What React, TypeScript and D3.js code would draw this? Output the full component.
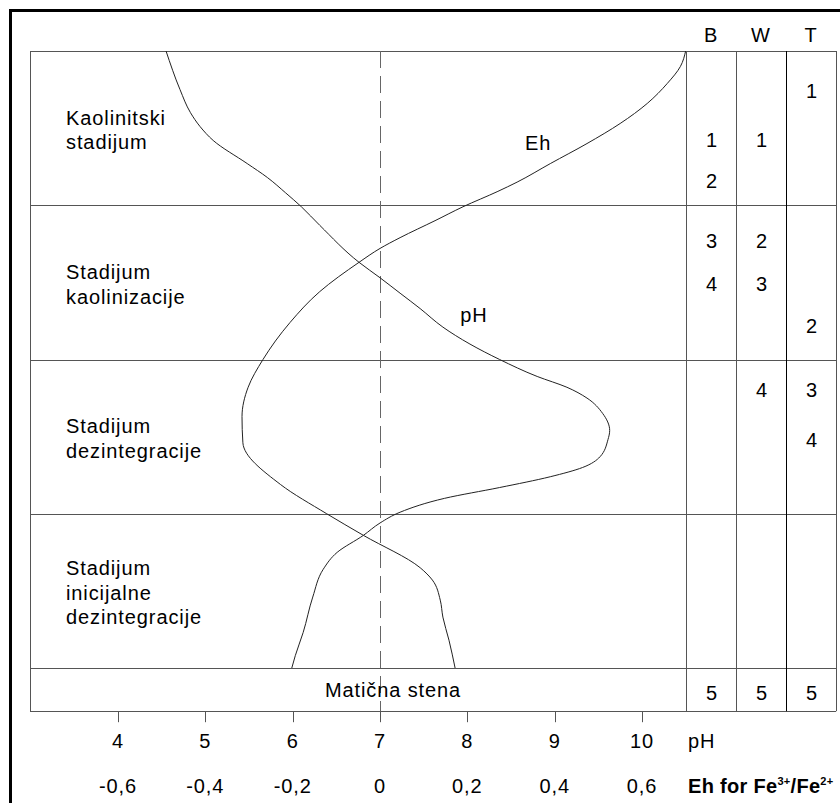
import React from "react";
import * as d3 from "d3";

// stages (rows), top to bottom
const stages = [
  ["Kaolinitski", "stadijum"],
  ["Stadijum", "kaolinizacije"],
  ["Stadijum", "dezintegracije"],
  ["Stadijum", "inicijalne", "dezintegracije"],
];
const baseRock = "Matična stena";

// profile columns and the sample numbers, with depth in stage units
const columns = ["B", "W", "T"];
const bLabels = ["1", "2", "3", "4", "5"];
const bDepth = [0.58, 0.84, 1.23, 1.51, 4.16];
const wLabels = ["1", "2", "3", "4", "5"];
const wDepth = [0.58, 1.23, 1.51, 2.2, 4.16];
const tLabels = ["1", "2", "3", "4", "5"];
const tDepth = [0.26, 1.78, 2.2, 2.52, 4.16];

// pH curve
const phValues = [4.55, 4.71, 4.83, 4.94, 5.09, 5.48, 5.71, 5.92, 6.1, 6.31, 6.76, 7.0, 7.23, 7.46, 7.72, 8.03, 8.37, 8.8, 9.14, 9.37, 9.55, 9.63, 9.61, 9.52, 9.32, 8.95, 8.37, 7.74, 7.23, 7.0, 6.81, 6.51, 6.35, 6.23, 6.12, 6.03, 5.99];
const phDepth = [0, 0.25, 0.4, 0.49, 0.58, 0.73, 0.82, 0.92, 1.01, 1.13, 1.37, 1.47, 1.57, 1.67, 1.79, 1.9, 2.0, 2.11, 2.18, 2.25, 2.35, 2.46, 2.52, 2.63, 2.7, 2.76, 2.83, 2.9, 2.99, 3.06, 3.14, 3.25, 3.36, 3.54, 3.77, 3.92, 4.0];

// Eh curve (V)
const ehValues = [0.7, 0.688, 0.658, 0.612, 0.55, 0.474, 0.39, 0.314, 0.27, 0.19, 0.126, 0.046, 0.0, -0.048, -0.138, -0.206, -0.268, -0.302, -0.316, -0.314, -0.228, -0.122, -0.038, 0.092, 0.12, 0.138, 0.144, 0.158, 0.172];
const ehDepth = [0, 0.1, 0.21, 0.34, 0.47, 0.6, 0.73, 0.85, 0.91, 1.01, 1.1, 1.21, 1.28, 1.37, 1.56, 1.76, 2.0, 2.18, 2.37, 2.54, 2.81, 3.0, 3.14, 3.35, 3.43, 3.56, 3.67, 3.82, 4.0];

const phTicks = [4, 5, 6, 7, 8, 9, 10];
const ehTicks = [-0.6, -0.4, -0.2, 0, 0.2, 0.4, 0.6];

const FONT = "'Liberation Sans', Arial, sans-serif";

export default function App() {
  const width = 840;
  const height = 803;
  const left = 30;
  const right = 836;

  const xPh = d3.scaleLinear().domain([4, 10]).range([118, 642]);
  const xEh = d3.scaleLinear().domain([-0.6, 0.6]).range([118, 642]);
  const y = d3.scaleLinear().domain([0, 4]).range([51, 668]);
  const col = d3.scaleBand().domain(columns).range([686, right]);
  const bottom = y(4.28);

  const phLine = d3
    .line<number>()
    .x((v) => xPh(v))
    .y((_, i) => y(phDepth[i]))
    .curve(d3.curveMonotoneY);
  const ehLine = d3
    .line<number>()
    .x((v) => xEh(v))
    .y((_, i) => y(ehDepth[i]))
    .curve(d3.curveMonotoneY);

  const fmtEh = (v: number) => (v === 0 ? "0" : v.toFixed(1).replace(".", ","));

  const markers = [
    { c: "B", labels: bLabels, depth: bDepth },
    { c: "W", labels: wLabels, depth: wDepth },
    { c: "T", labels: tLabels, depth: tDepth },
  ];

  const grid = "#555";
  const txt = { fontFamily: FONT, fontSize: 20, letterSpacing: 0.9, fill: "#000" };

  return (
    <div style={{ position: "absolute", left: 0, top: 0 }}>
      <svg width={width} height={height} style={{ display: "block", background: "#fff" }}>
        {/* outer frame */}
        <path d={`M10.5,${height} V10.5 H${width}`} fill="none" stroke="#000" strokeWidth={3} />

        {/* stage rows */}
        {d3.range(0, 5).map((i) => (
          <line key={"h" + i} x1={left} x2={right} y1={Math.round(y(i)) + 0.5} y2={Math.round(y(i)) + 0.5} stroke={grid} />
        ))}
        <line x1={left} x2={right} y1={Math.round(bottom) + 0.5} y2={Math.round(bottom) + 0.5} stroke={grid} />
        <line x1={left + 0.5} x2={left + 0.5} y1={y(0)} y2={bottom} stroke={grid} />

        {/* column separators */}
        {columns.map((c, i) => (
          <line
            key={"v" + c}
            x1={Math.round(col(c)!) + 0.5}
            x2={Math.round(col(c)!) + 0.5}
            y1={y(0)}
            y2={bottom}
            stroke={i === 2 ? "#000" : grid}
          />
        ))}
        <line x1={right + 0.5} x2={right + 0.5} y1={y(0)} y2={bottom} stroke={grid} />

        {/* neutral pH line */}
        <line
          x1={xPh(7) + 0.5}
          x2={xPh(7) + 0.5}
          y1={y(0)}
          y2={bottom}
          stroke="#666"
          strokeDasharray="17,8"
        />

        {/* curves */}
        <path d={phLine(phValues) ?? ""} fill="none" stroke="#222" strokeWidth={1} />
        <path d={ehLine(ehValues) ?? ""} fill="none" stroke="#222" strokeWidth={1} />
        <text x={xEh(0.332)} y={y(0.64)} {...txt}>Eh</text>
        <text x={xPh(7.92)} y={y(1.76)} {...txt}>pH</text>

        {/* stage labels */}
        {stages.map((lines, i) => {
          const mid = (y(i) + y(i + 1)) / 2;
          const first = mid - ((lines.length - 1) * 24.5) / 2 + 9;
          return (
            <text key={"s" + i} {...txt}>
              {lines.map((l, j) => (
                <tspan key={j} x={66} y={first + j * 24.5}>
                  {l}
                </tspan>
              ))}
            </text>
          );
        })}
        <text x={393} y={(y(4) + bottom) / 2 + 7} textAnchor="middle" {...txt}>
          {baseRock}
        </text>

        {/* column headers and sample numbers */}
        {columns.map((c) => (
          <text key={"c" + c} x={col(c)! + col.bandwidth() / 2} y={42} textAnchor="middle" {...txt}>
            {c}
          </text>
        ))}
        {markers.map((m) =>
          m.labels.map((l, i) => (
            <text
              key={m.c + i}
              x={col(m.c)! + col.bandwidth() / 2 + 1}
              y={y(m.depth[i]) + 7}
              textAnchor="middle"
              {...txt}
            >
              {l}
            </text>
          ))
        )}

        {/* axes */}
        {phTicks.map((t) => (
          <g key={"t" + t}>
            <line x1={Math.round(xPh(t)) + 0.5} x2={Math.round(xPh(t)) + 0.5} y1={bottom} y2={bottom + 11} stroke={grid} />
            <text x={xPh(t)} y={748} textAnchor="middle" {...txt}>
              {t}
            </text>
          </g>
        ))}
        <text x={688} y={748} {...txt}>pH</text>
        {ehTicks.map((t) => (
          <text key={"e" + t} x={xEh(t)} y={793} textAnchor="middle" {...txt}>
            {fmtEh(t)}
          </text>
        ))}
        <text x={688} y={793} {...txt} letterSpacing={0.3} fontWeight="bold">
          Eh for Fe
          <tspan dy={-8} fontSize={11}>3+</tspan>
          <tspan dy={8}>/Fe</tspan>
          <tspan dy={-8} fontSize={11}>2+</tspan>
        </text>
      </svg>
    </div>
  );
}
